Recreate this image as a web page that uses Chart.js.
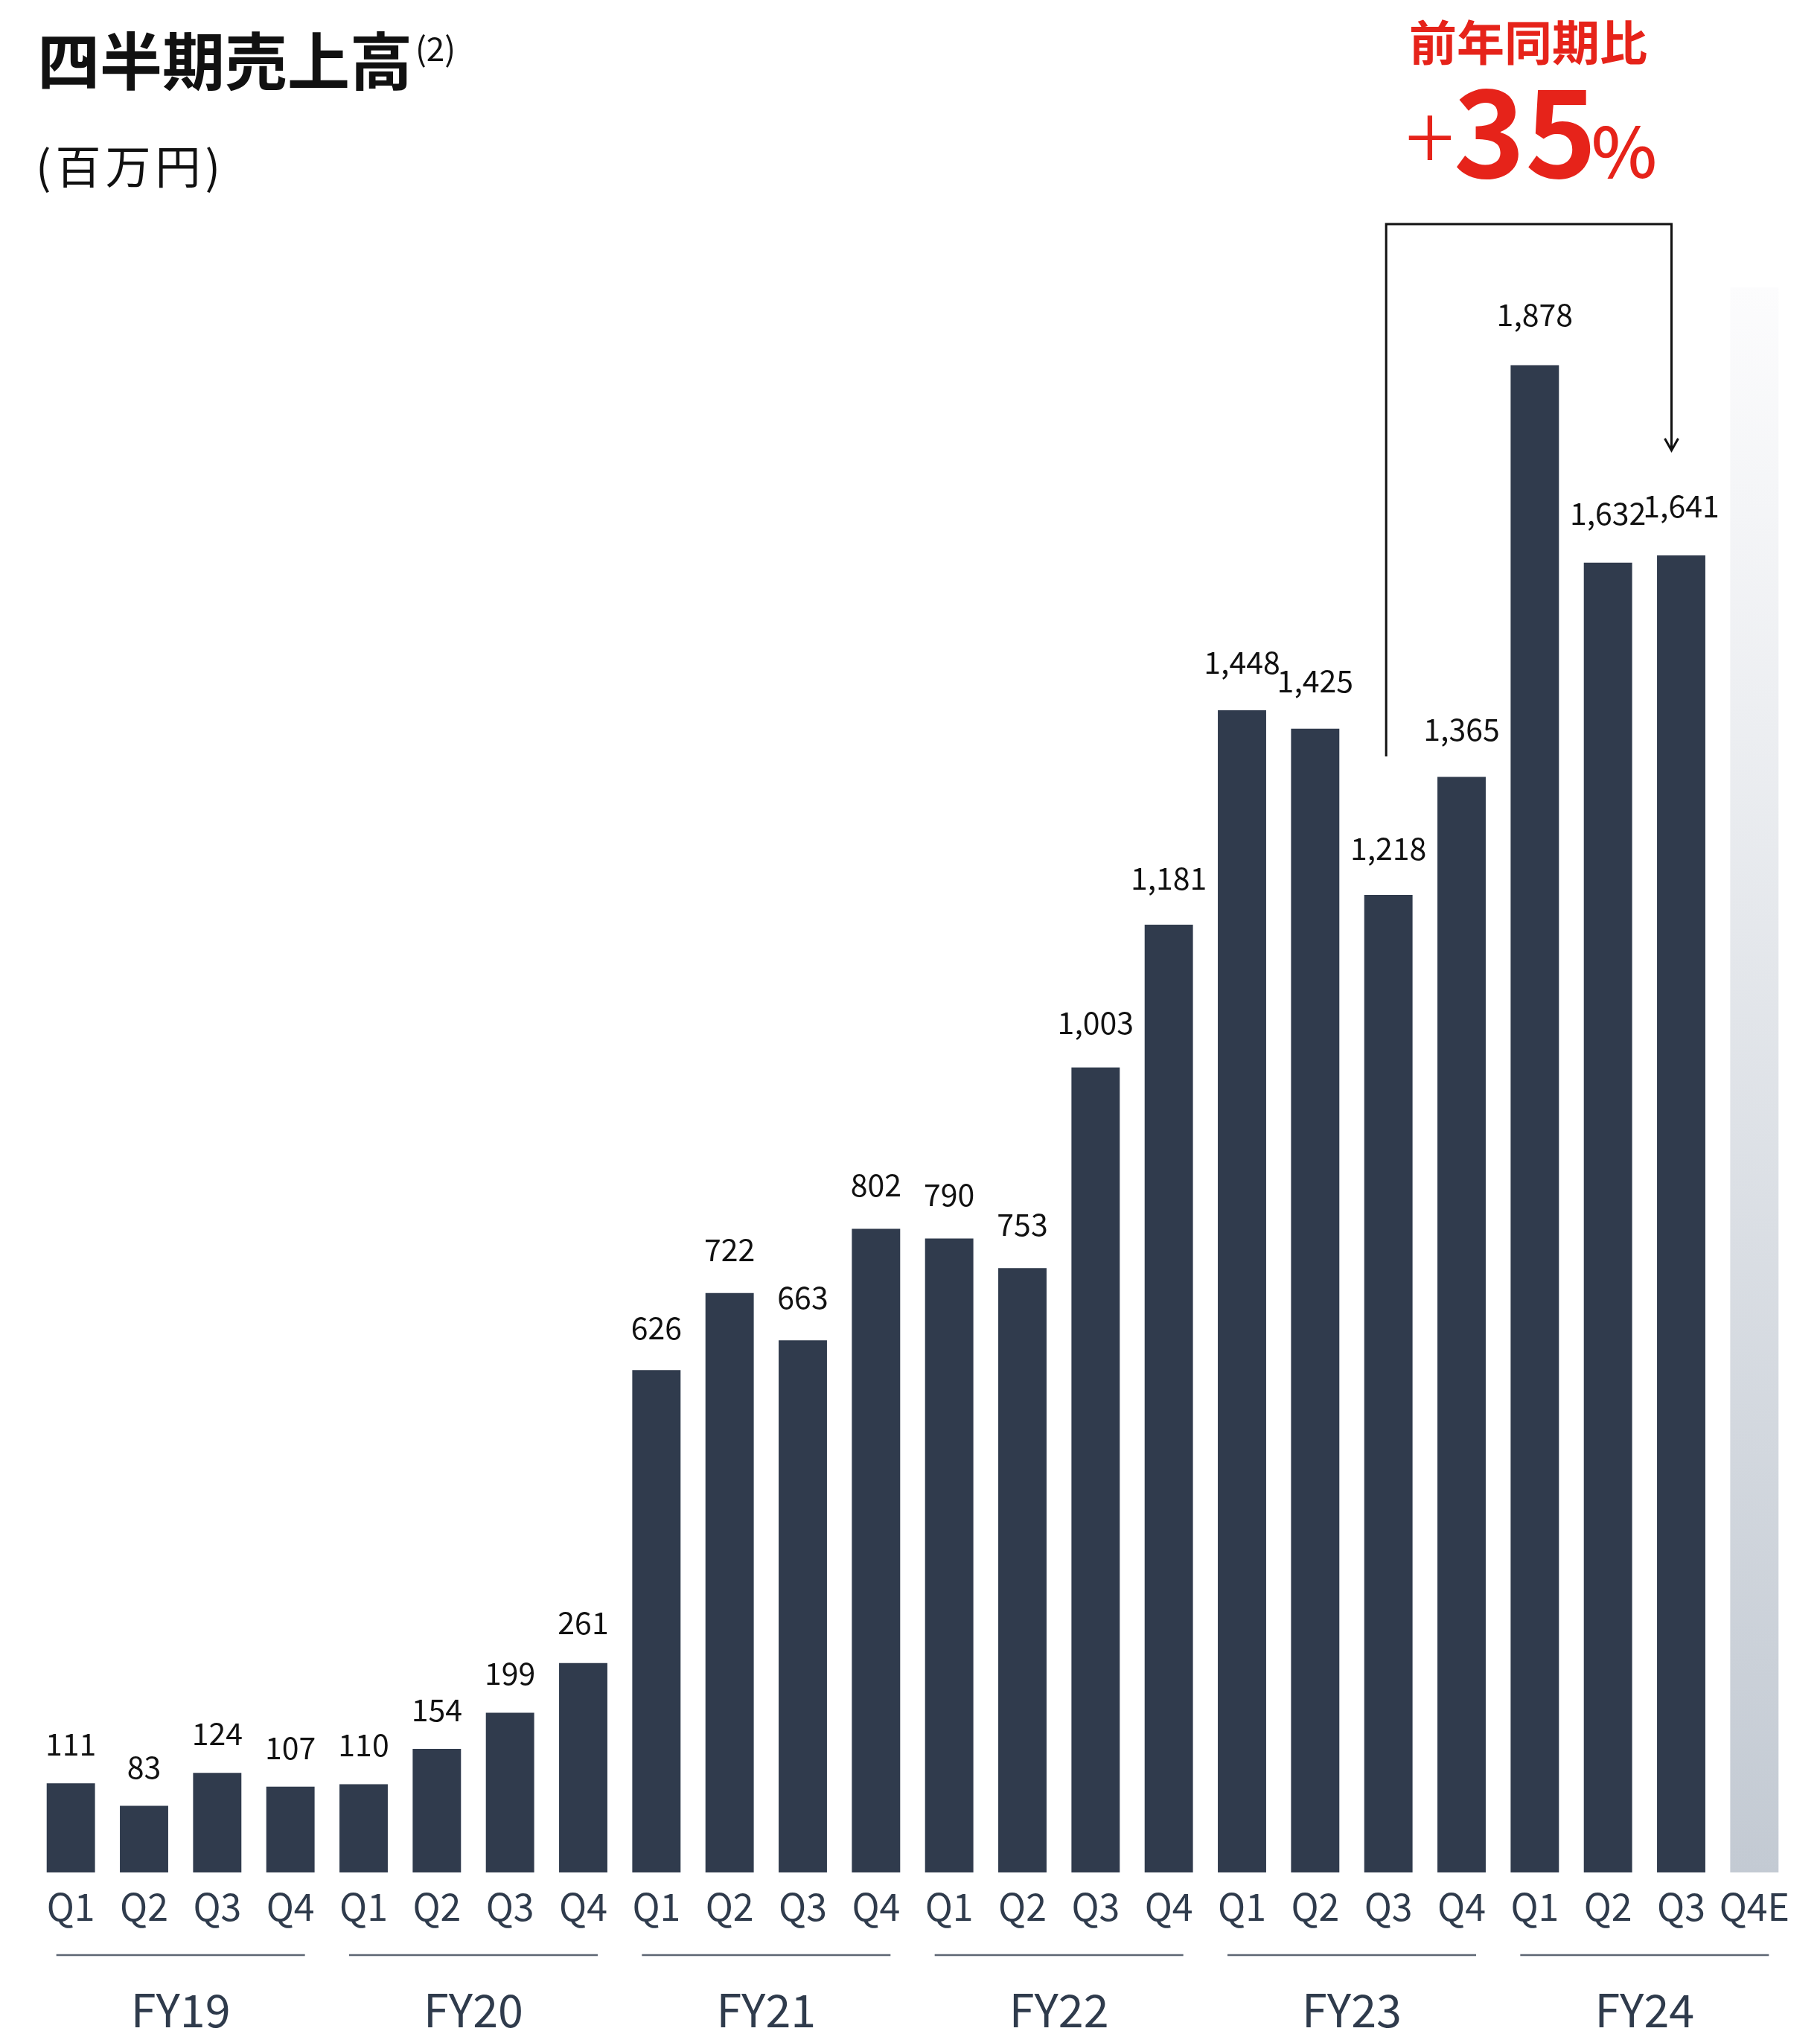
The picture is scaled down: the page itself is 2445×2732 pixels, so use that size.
<!DOCTYPE html>
<html>
<head>
<meta charset="utf-8">
<title>四半期売上高</title>
<script src="https://cdn.jsdelivr.net/npm/chart.js@4.4.1/dist/chart.umd.min.js"></script>
<style>
  html, body { margin: 0; padding: 0; background: #fff; }
  canvas { display: block; }
</style>
</head>
<body>
<canvas id="chart" width="2445" height="2732"></canvas>
<script>
// quarterly sales, millions of yen
const quarters = ['Q1','Q2','Q3','Q4','Q1','Q2','Q3','Q4','Q1','Q2','Q3','Q4',
                  'Q1','Q2','Q3','Q4','Q1','Q2','Q3','Q4','Q1','Q2','Q3','Q4E'];
const fiscalYears = ['FY19','FY20','FY21','FY22','FY23','FY24'];
const sales = [111, 83, 124, 107, 110, 154, 199, 261, 626, 722, 663, 802,
               790, 753, 1003, 1181, 1448, 1425, 1218, 1365, 1878, 1632, 1641];
const q4Estimate = 1975;   // unlabelled forecast bar
const yoyFrom = 18;        // FY23 Q3
const yoyTo = 22;          // FY24 Q3

const FONT = '"Noto Sans CJK JP", "Noto Sans", sans-serif';
const barColor = '#303b4d';
const axisText = '#2f3b4c';
const red = '#e6231a';

const overlay = {
  id: 'overlay',
  afterDatasetsDraw(chart) {
    const ctx = chart.ctx;
    const meta = chart.getDatasetMeta(0);
    ctx.save();
    ctx.font = '41px ' + FONT;
    ctx.fillStyle = '#111';
    ctx.textAlign = 'center';
    ctx.textBaseline = 'alphabetic';
    sales.forEach((v, i) => {
      const bar = meta.data[i];
      // taller bars get a little more headroom above the value
      ctx.fillText(v.toLocaleString('en-US'), bar.x, bar.y - (36 + 0.009 * v));
    });
    ctx.restore();
  },
  afterDraw(chart) {
    const ctx = chart.ctx;
    const x = chart.scales.x;
    const y = chart.scales.y;
    ctx.save();

    // heading
    ctx.fillStyle = '#111';
    ctx.textAlign = 'left';
    ctx.textBaseline = 'alphabetic';
    ctx.font = 'bold 84px ' + FONT;
    ctx.fillText('四半期売上高', 50, 114);
    const w = ctx.measureText('四半期売上高').width;
    ctx.font = '44px ' + FONT;
    ctx.fillText('(2)', 50 + w + 4, 82);
    ctx.font = '61px ' + FONT;
    ctx.letterSpacing = '6px';
    ctx.fillText('(百万円)', 48, 247);
    ctx.letterSpacing = '0px';

    // year-over-year callout
    ctx.fillStyle = red;
    ctx.textAlign = 'center';
    ctx.font = 'bold 64px ' + FONT;
    ctx.fillText('前年同期比', 2053, 81);
    ctx.font = '300 122px ' + FONT;
    ctx.fillText('+', 1921, 230);
    ctx.font = 'bold 163px ' + FONT;
    ctx.fillText('35', 2049, 239);
    ctx.font = '500 94px ' + FONT;
    ctx.fillText('%', 2182, 239);

    // bracket from FY23 Q3 to FY24 Q3
    const x0 = x.getPixelForValue(yoyFrom) - 3;
    const x1 = x.getPixelForValue(yoyTo) - 13;
    const top = 301;
    const leftEnd = y.getPixelForValue(sales[yoyFrom]) - 186;
    const tip = y.getPixelForValue(sales[yoyTo]) - 141;
    ctx.strokeStyle = '#111';
    ctx.lineWidth = 3;
    ctx.beginPath();
    ctx.moveTo(x0, leftEnd);
    ctx.lineTo(x0, top);
    ctx.lineTo(x1, top);
    ctx.lineTo(x1, tip);
    ctx.stroke();
    ctx.beginPath();
    ctx.moveTo(x1 - 9, tip - 16);
    ctx.lineTo(x1, tip);
    ctx.lineTo(x1 + 9, tip - 16);
    ctx.stroke();

    // fiscal year groups
    ctx.strokeStyle = '#5d6673';
    ctx.lineWidth = 2.5;
    ctx.fillStyle = axisText;
    ctx.font = '61px ' + FONT;
    fiscalYears.forEach((fy, g) => {
      const cx = (x.getPixelForValue(g * 4) + x.getPixelForValue(g * 4 + 3)) / 2;
      ctx.beginPath();
      ctx.moveTo(cx - 167, 2626);
      ctx.lineTo(cx + 167, 2626);
      ctx.stroke();
      ctx.fillText(fy, cx, 2723);
    });
    ctx.restore();
  }
};

const ctx = document.getElementById('chart').getContext('2d');
new Chart(ctx, {
  type: 'bar',
  data: {
    labels: quarters,
    datasets: [{
      data: sales.concat([q4Estimate]),
      backgroundColor: (c) => {
        if (c.dataIndex !== sales.length) return barColor;
        const area = c.chart.chartArea;
        if (!area) return '#c3cad3';
        const yTop = c.chart.scales.y.getPixelForValue(q4Estimate);
        const g = c.chart.ctx.createLinearGradient(0, yTop, 0, area.bottom);
        g.addColorStop(0, '#fcfcfd');
        g.addColorStop(1, '#c3cad3');
        return g;
      },
      borderWidth: 0,
      barPercentage: 0.66,
      categoryPercentage: 1.0
    }]
  },
  options: {
    responsive: false,
    animation: false,
    layout: { padding: { top: 359, left: 46, right: 39, bottom: 0 } },
    plugins: { legend: { display: false }, tooltip: { enabled: false } },
    scales: {
      x: {
        grid: { display: false },
        border: { display: false },
        ticks: {
          color: axisText,
          font: { family: FONT, size: 50 },
          padding: 8,
          maxRotation: 0,
          autoSkip: false
        },
        afterFit: (scale) => { scale.height = 217; }
      },
      y: { display: false, min: 0, max: 2000 }
    }
  },
  plugins: [overlay]
});
</script>
</body>
</html>
